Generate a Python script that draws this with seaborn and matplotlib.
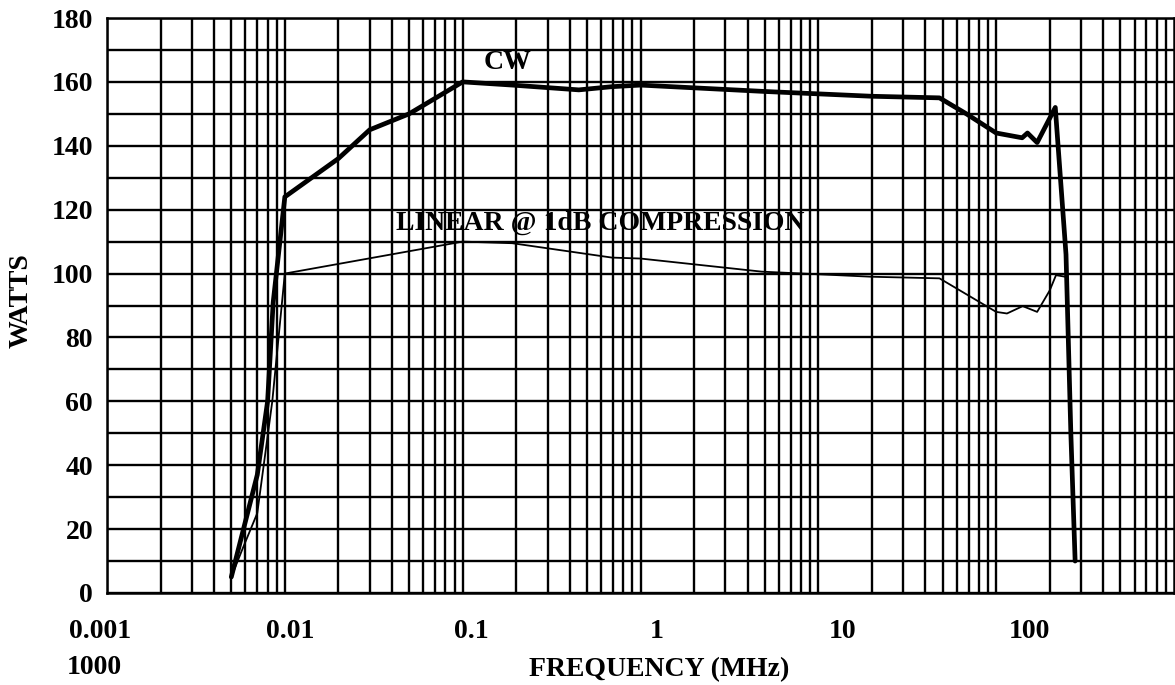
import numpy as np
import pandas as pd
import matplotlib
matplotlib.use("Agg")
import matplotlib.pyplot as plt
import matplotlib.transforms as mtrans
from matplotlib.ticker import LogLocator, MultipleLocator, NullFormatter
import seaborn as sns

# ── data (frequency in MHz, power in W) ──
cw_freq = [0.005, 0.007, 0.008, 0.0086, 0.01, 0.02, 0.03, 0.05, 0.1, 0.19,
           0.45, 0.69, 1.0, 5.0, 20.0, 48.0, 68.0, 100.0, 140.0, 150.0,
           170.0, 215.0, 247.0, 263.0, 278.0]
cw_watts = [5, 37, 60, 91, 124, 136, 145, 150, 160, 159,
            157.5, 158.5, 159, 157, 155.5, 155, 150, 144, 142.5, 144,
            141, 152, 106, 50, 10]

lin_freq = [0.005, 0.0058, 0.007, 0.0085, 0.01, 0.1, 0.19, 0.69, 1.0, 4.8,
            20.0, 48.0, 100.0, 115.0, 141.0, 170.0, 200.0, 217.0, 245.0]
lin_watts = [5, 14, 25, 60, 100, 110, 109.5, 105, 104.7, 100.6,
             99, 98.5, 88, 87.5, 89.8, 88, 94.7, 99.5, 99]

decade_ticks = [0.001, 0.01, 0.1, 1, 10, 100]
decade_labels = ["0.001", "0.01", "0.1", "1", "10", "100"]
label_shift_px = [-7, 5, 9, 16, 24, 33]   # labels drift right in the scan

cw = pd.DataFrame({"freq": cw_freq, "watts": cw_watts})
lin = pd.DataFrame({"freq": lin_freq, "watts": lin_watts})

# ── style ──
sns.set_theme(style="white")
plt.rcParams['font.family'] = ['Liberation Serif', 'DejaVu Serif']
plt.rcParams['font.weight'] = 'bold'
plt.rcParams['text.color'] = 'black'
plt.rcParams['axes.labelcolor'] = 'black'
plt.rcParams['xtick.color'] = 'black'
plt.rcParams['ytick.color'] = 'black'

fig = plt.figure(figsize=(11.75, 6.85), dpi=100)
ax = fig.add_axes([107 / 1175, 1 - 593 / 685, (1174 - 107) / 1175, (593 - 18) / 685])

sns.lineplot(data=cw, x="freq", y="watts", ax=ax, color="black",
             linewidth=3.4, sort=False, estimator=None)
sns.lineplot(data=lin, x="freq", y="watts", ax=ax, color="black",
             linewidth=1.3, sort=False, estimator=None)

ax.set_xscale("log")
ax.set_xlim(0.001, 1000)
ax.set_ylim(0, 180)

# graph-paper grid
ax.xaxis.set_major_locator(LogLocator(base=10, numticks=20))
ax.xaxis.set_minor_locator(LogLocator(base=10, subs=np.arange(2, 10), numticks=100))
ax.xaxis.set_minor_formatter(NullFormatter())
ax.yaxis.set_major_locator(MultipleLocator(20))
ax.yaxis.set_minor_locator(MultipleLocator(10))
ax.grid(True, which="both", color="black", linewidth=1.7)
ax.set_axisbelow(True)
for sp in ax.spines.values():
    sp.set_color("black")
    sp.set_linewidth(1.8)

ax.set_xticks(decade_ticks)
ax.set_xticklabels(decade_labels)
ax.tick_params(axis="both", which="both", length=0, labelsize=20)
ax.tick_params(axis="x", pad=19)
ax.tick_params(axis="y", pad=10)
for lab, dx in zip(ax.get_xticklabels(), label_shift_px):
    lab.set_transform(lab.get_transform() +
                      mtrans.ScaledTranslation(dx / 100, 0, fig.dpi_scale_trans))
    lab.set_fontweight("bold")
for lab in ax.get_yticklabels():
    lab.set_fontweight("bold")

# the stray 1000 label sits under 0.001 in the original
ax.annotate("1000", xy=(0.001, 0), xycoords=("data", "axes fraction"),
            xytext=(-40, -74), textcoords="offset pixels",
            ha="left", va="center", fontsize=20, fontweight="bold")

ax.set_xlabel("FREQUENCY (MHz)", fontsize=20, fontweight="bold")
ax.xaxis.set_label_coords((659 - 107) / 1067, -(657 - 593) / 575)
ax.set_ylabel("WATTS", fontsize=20, fontweight="bold")
ax.yaxis.set_label_coords(-(107 - 34) / 1067, (593 - 301) / 575)

ax.text(0.179, 166, "CW", ha="center", va="center", fontsize=20, fontweight="bold")
ax.text(0.595, 115.8, "LINEAR @ 1dB COMPRESSION", ha="center", va="center",
        fontsize=20, fontweight="bold")

fig.savefig("out.png", dpi=100)
